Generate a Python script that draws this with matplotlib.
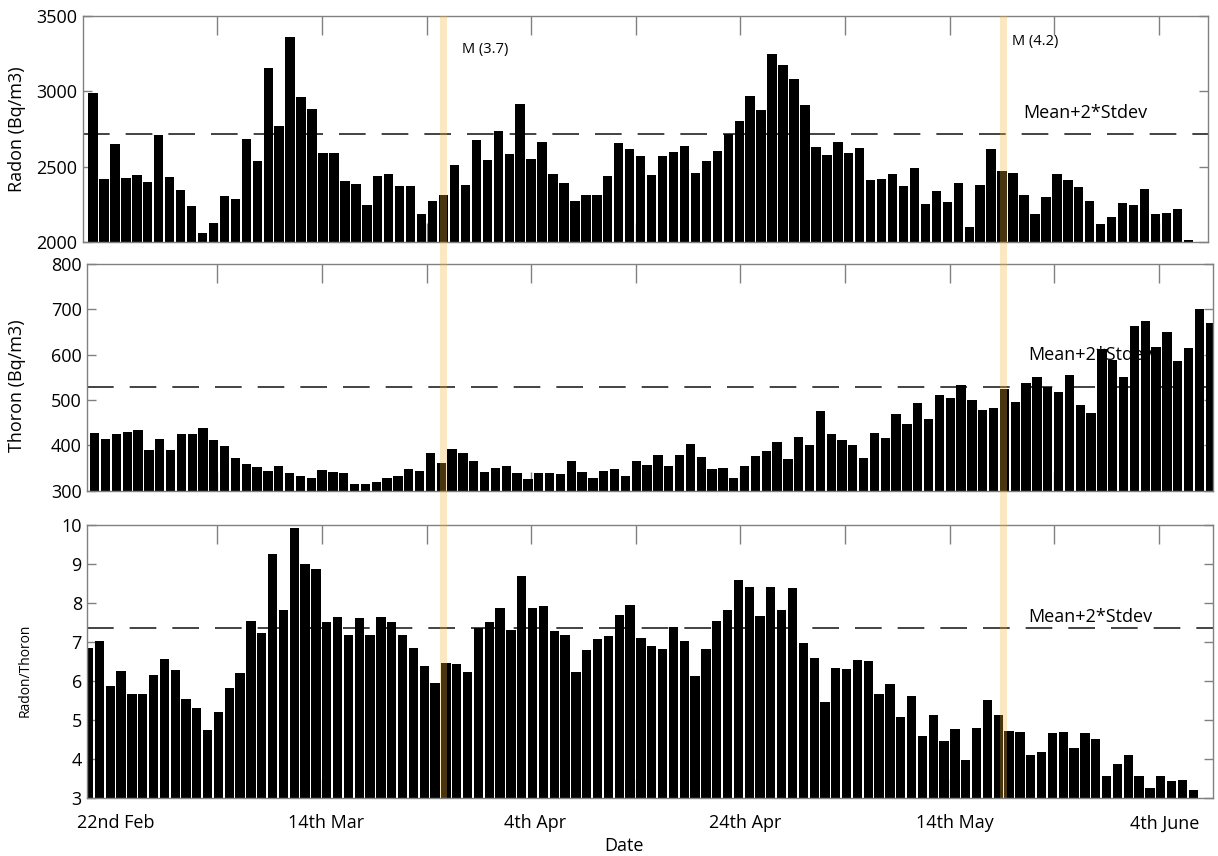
import matplotlib
matplotlib.use("Agg")
import matplotlib.pyplot as plt
import matplotlib.transforms as mtransforms
from matplotlib.patches import Rectangle
import numpy as np

plt.rcParams['font.family'] = ['Open Sans', 'DejaVu Sans']

# daily values
radon = [2986, 2419, 2653, 2428, 2448, 2399, 2710, 2435, 2349, 2240,
         2064, 2128, 2304, 2289, 2686, 2540, 3156, 2770, 3359, 2964,
         2885, 2589, 2589, 2408, 2388, 2245, 2437, 2452, 2373, 2373,
         2188, 2276, 2313, 2510, 2379, 2677, 2543, 2739, 2582, 2915,
         2549, 2666, 2454, 2395, 2271, 2313, 2313, 2441, 2655, 2618,
         2574, 2448, 2574, 2598, 2638, 2457, 2540, 2607, 2719, 2803,
         2971, 2876, 3244, 3171, 3079, 2911, 2631, 2576, 2666, 2593,
         2622, 2410, 2417, 2454, 2371, 2494, 2254, 2342, 2267, 2393,
         2099, 2379, 2618, 2470, 2459, 2315, 2185, 2298, 2454, 2415,
         2368, 2276, 2124, 2168, 2263, 2245, 2351, 2185, 2196, 2223,
         2018]

thoron = [427, 414, 426, 430, 434, 390, 414, 389, 426, 424,
          438, 411, 398, 371, 358, 352, 343, 355, 340, 332,
          327, 346, 341, 338, 315, 314, 320, 327, 332, 348,
          344, 384, 360, 391, 384, 366, 341, 350, 355, 338,
          326, 339, 339, 336, 366, 342, 329, 343, 348, 332,
          365, 356, 379, 354, 378, 402, 374, 348, 349, 327,
          354, 376, 388, 408, 370, 419, 400, 475, 424, 412,
          401, 371, 428, 417, 469, 446, 494, 458, 510, 504,
          534, 499, 478, 483, 525, 496, 537, 551, 529, 518,
          556, 490, 472, 612, 588, 551, 664, 675, 617, 651,
          585, 614, 701, 669]

ratio = [6.83, 7.02, 5.86, 6.26, 5.67, 5.67, 6.16, 6.56, 6.28, 5.54,
         5.30, 4.74, 5.19, 5.81, 6.20, 7.53, 7.24, 9.25, 7.83, 9.92,
         8.99, 8.87, 7.51, 7.64, 7.17, 7.60, 7.18, 7.64, 7.52, 7.17,
         6.85, 6.38, 5.95, 6.46, 6.44, 6.22, 7.36, 7.50, 7.86, 7.31,
         8.69, 7.88, 7.91, 7.28, 7.17, 6.23, 6.80, 7.08, 7.14, 7.68,
         7.94, 7.11, 6.90, 6.82, 7.37, 7.01, 6.13, 6.82, 7.53, 7.82,
         8.60, 8.42, 7.67, 8.40, 7.81, 8.37, 6.97, 6.59, 5.45, 6.32,
         6.30, 6.54, 6.52, 5.67, 5.91, 5.08, 5.62, 4.58, 5.13, 4.46,
         4.77, 3.96, 4.79, 5.51, 5.12, 4.71, 4.69, 4.09, 4.18, 4.67,
         4.68, 4.28, 4.67, 4.51, 3.55, 3.86, 4.10, 3.55, 3.26, 3.56,
         3.43, 3.45, 3.21]

thresholds = [2717, 529, 7.36]   # Mean+2*Stdev

# x positions below are in units of the bottom (ratio) panel
date_labels = ["22nd Feb", "14th Mar", "4th Apr", "24th Apr", "14th May", "4th June"]
date_pos = [2.54, 21.93, 41.23, 60.62, 80.01, 99.40]
tick_pos = [11.89, 21.55, 31.21, 40.87, 50.53, 60.19, 69.85, 79.51, 89.17, 98.83]
quake_pos = [32.76, 84.47]
quake_labels = ["M (3.7)", "M (4.2)"]

fig = plt.figure(figsize=(12.18, 8.56), dpi=100)
ax1 = fig.add_axes([0.0679, 0.7169, 0.9239, 0.2647])
ax2 = fig.add_axes([0.0717, 0.4268, 0.9245, 0.2648])
ax3 = fig.add_axes([0.0717, 0.0681, 0.9245, 0.3186])
axes = [ax1, ax2, ax3]

series = [radon, thoron, ratio]
ylims = [(2000, 3500), (300, 800), (3, 10)]
xlims = [(-0.94, 101.8), (-0.68, 103.29), (-0.11, 103.86)]
yticks = [np.arange(2000, 3501, 500), np.arange(300, 801, 100), np.arange(3, 11, 1)]
ylabels = ["Radon (Bq/m3)", "Thoron (Bq/m3)", "Radon/Thoron"]
ylabel_xy = [(-0.0584, 0.5), (-0.0624, 0.462), (-0.0553, 0.468)]
ylabel_size = [13, 13, 10]
mean_text_y = [2856, 599, 7.64]
grey = '#808080'

for ax, vals, yl, xl, yt, lab, lxy, ls, thr, ty in zip(
        axes, series, ylims, xlims, yticks, ylabels, ylabel_xy, ylabel_size,
        thresholds, mean_text_y):
    ax.bar(np.arange(len(vals)), vals, width=0.86, color='black', zorder=1)
    ax.axhline(thr, color='#222222', lw=1.2, dashes=(16, 9.6), zorder=0.9)
    ax.text(0.836, ty, "Mean+2*Stdev", transform=ax.get_yaxis_transform(),
            va='center', ha='left', fontsize=13, zorder=0.8)
    ax.set_xlim(*xl)
    ax.set_ylim(*yl)
    ax.set_yticks(yt)
    ax.set_axisbelow(True)
    ax.text(lxy[0], lxy[1], lab, transform=ax.transAxes, rotation=90,
            ha='center', va='center', fontsize=ls)
    for s in ax.spines.values():
        s.set_color(grey)
        s.set_linewidth(1)
    ax.tick_params(axis='y', direction='in', left=True, right=True,
                   length=6.5, width=1, color=grey, labelsize=13, pad=4)

# shared date ticks, mapped into each panel's own x units
def to_panel(ax, xs):
    pts = np.column_stack([xs, np.zeros(len(xs))])
    pix = ax3.transData.transform(pts)
    return ax.transData.inverted().transform(pix)[:, 0]

for ax in axes:
    ax.set_xticks(to_panel(ax, date_pos))
    ax.set_xticks(to_panel(ax, tick_pos), minor=True)
    ax.tick_params(axis='x', which='major', length=0, pad=12, labelsize=13)
    ax.tick_params(axis='x', which='minor', direction='in', top=True,
                   bottom=True, length=14, width=1, color=grey)

ax1.set_xticklabels([])
ax2.set_xticklabels([])
ax3.set_xticklabels(date_labels)

# earthquake bands across all panels
band = mtransforms.blended_transform_factory(ax3.transData, fig.transFigure)
y0 = ax3.get_position().y0
y1 = ax1.get_position().y1
for q in quake_pos:
    fig.add_artist(Rectangle((q - 0.31, y0), 0.62, y1 - y0, transform=band,
                             facecolor='#f2b035', alpha=0.3, lw=0, zorder=5))

ax1.text(0.337, 0.849, quake_labels[0], transform=ax1.transAxes,
         fontsize=10.5, va='center', ha='left')
ax1.text(0.826, 0.888, quake_labels[1], transform=ax1.transAxes,
         fontsize=10.5, va='center', ha='left')

fig.text(0.512, 0.0117, "Date", ha='center', va='center', fontsize=13)

fig.savefig("out.png", dpi=100)
